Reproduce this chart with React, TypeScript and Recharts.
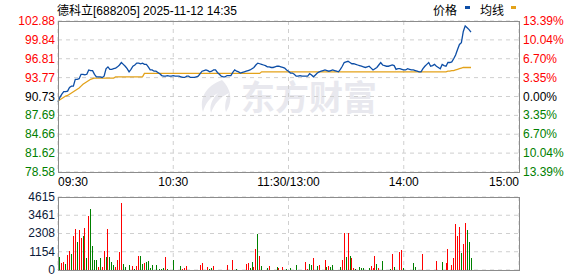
import React from 'react';
import { LineChart, Line, XAxis, YAxis, CartesianGrid, BarChart, Bar } from 'recharts';

const FONT = '"Liberation Sans", "Noto Sans CJK SC", sans-serif';

const TITLE = '德科立[688205] 2025-11-12 14:35';
const LEGEND_PRICE = '价格';
const LEGEND_AVG = '均线';
const WATERMARK = '东方财富';

const PREV_CLOSE = 90.73;
const PRICE_MIN = 78.58;
const PRICE_MAX = 102.88;
const PRICE_TICKS = [78.58, 81.62, 84.66, 87.69, 90.73, 93.77, 96.81, 99.84, 102.88];
const PCT_LABELS = ['13.39%', '10.04%', '6.70%', '3.35%', '0.00%', '3.35%', '6.70%', '10.04%', '13.39%'];
const TIME_TICKS = [0, 60, 120, 180, 240];
const TIME_LABELS = ['09:30', '10:30', '11:30/13:00', '14:00', '15:00'];
const VOL_TICKS = [0, 1154, 2308, 3461, 4615];
const VOL_MAX = 4615;

const PRICE = [
  89.9, 90.6, 91.1, 91.5, 91.5, 91.6, 92.2, 92.4, 92.4, 93.5,
  93.5, 93.6, 94.3, 94.3, 94.2, 94.3, 95.0, 94.9, 94.9, 94.3,
  93.9, 93.9, 93.9, 93.8, 94.0, 95.2, 95.5, 95.1, 95.1, 95.2,
  95.3, 95.5, 95.8, 96.2, 95.9, 95.6, 95.2, 94.7, 95.1, 95.6,
  95.8, 96.1, 96.1, 96.0, 96.1, 95.9, 95.9, 95.5, 95.0, 95.0,
  94.8, 94.8, 94.6, 94.4, 94.1, 94.0, 94.0, 94.1, 94.0, 94.0,
  94.1, 94.0, 94.0, 94.0, 93.9, 93.8, 93.8, 94.0, 94.0, 93.8,
  93.8, 93.8, 93.9, 94.0, 94.4, 94.8, 94.9, 95.0, 94.9, 94.7,
  94.8, 95.0, 95.0, 94.6, 94.3, 94.0, 93.9, 93.9, 94.1, 94.1,
  94.1, 94.6, 95.0, 94.8, 94.7, 94.5, 94.6, 94.7, 94.8, 94.9,
  95.0, 95.2, 95.4, 95.8, 96.1, 96.0, 95.9, 95.8, 95.7, 95.5,
  95.5, 95.4, 95.4, 95.5, 95.6, 95.6, 95.5, 95.4, 95.3, 95.0,
  94.8, 94.5, 94.5, 94.3, 94.0, 94.0, 94.1, 94.0, 94.0, 94.0,
  94.0, 94.4, 94.2, 93.9, 94.2, 94.5, 94.7, 94.8, 94.9, 95.0,
  94.9, 94.8, 94.9, 95.0, 94.9, 94.8, 94.7, 95.1, 95.6, 96.2,
  96.3, 96.4, 96.2, 96.0, 96.0, 95.9, 95.8, 95.7, 95.6, 95.5,
  95.4, 95.5, 95.6, 95.3, 95.0, 95.2, 95.4, 95.8, 96.2, 95.8,
  95.7, 95.6, 95.6, 95.7, 95.8, 95.7, 95.1, 95.2, 95.2, 95.1,
  95.0, 95.0, 95.2, 95.1, 95.0, 95.0, 94.9, 94.8, 94.7, 94.7,
  95.2, 95.6, 95.9, 96.2, 95.6, 95.7, 95.9, 95.6, 95.4, 95.2,
  95.9, 95.7, 95.6, 96.2, 96.2, 96.3, 96.8, 97.4, 98.3, 99.1,
  99.4, 101.2, 102.1, 101.8, 101.5, 101.1,
];

const AVG = [
  90.0, 90.2, 90.4, 90.6, 90.8, 90.9, 91.1, 91.3, 91.5, 91.7,
  91.9, 92.1, 92.4, 92.7, 92.9, 93.1, 93.3, 93.5, 93.6, 93.7,
  93.7, 93.7, 93.7, 93.7, 93.7, 93.7, 93.7, 93.7, 93.7, 93.7,
  93.9, 93.9, 93.9, 93.9, 93.9, 93.9, 93.9, 93.9, 93.9, 93.9,
  93.9, 93.9, 93.9, 93.9, 93.9, 94.45, 94.45, 94.45, 94.45, 94.45,
  94.45, 94.45, 94.45, 94.45, 94.45, 94.45, 94.45, 94.45, 94.45, 94.45,
  94.45, 94.45, 94.45, 94.45, 94.45, 94.45, 94.45, 94.45, 94.45, 94.45,
  94.45, 94.45, 94.45, 94.45, 94.45, 94.45, 94.45, 94.45, 94.45, 94.45,
  94.45, 94.45, 94.45, 94.45, 94.45, 94.45, 94.45, 94.45, 94.45, 94.45,
  94.45, 94.45, 94.45, 94.45, 94.45, 94.45, 94.45, 94.45, 94.45, 94.45,
  94.45, 94.45, 94.45, 94.45, 94.45, 94.45, 94.7, 94.7, 94.7, 94.7,
  94.7, 94.7, 94.7, 94.7, 94.7, 94.7, 94.7, 94.7, 94.7, 94.7,
  94.7, 94.7, 94.7, 94.7, 94.7, 94.7, 94.7, 94.7, 94.7, 94.7,
  94.7, 94.7, 94.7, 94.7, 94.7, 94.7, 94.7, 94.7, 94.7, 94.7,
  94.7, 94.7, 94.7, 94.7, 94.7, 94.7, 94.7, 94.7, 94.7, 94.7,
  94.7, 94.7, 94.7, 94.7, 94.7, 94.7, 94.7, 94.7, 94.7, 94.7,
  94.7, 94.7, 94.7, 94.7, 94.7, 94.7, 94.7, 94.7, 94.7, 94.7,
  94.7, 94.7, 94.7, 94.7, 94.7, 94.7, 94.7, 94.7, 94.7, 94.7,
  94.7, 94.7, 94.7, 94.7, 94.7, 94.7, 94.7, 94.7, 94.7, 94.7,
  94.7, 94.7, 94.7, 94.7, 94.7, 94.7, 94.7, 94.7, 94.7, 94.7,
  94.7, 94.7, 94.7, 94.8, 94.8, 94.9, 94.9, 95.0, 95.1, 95.2,
  95.3, 95.4, 95.4, 95.4, 95.4, 95.4,
];

const VOLUME = [
  0, 792, 470, 535, 407, 920, 1177, 984, 2140, 2589,
  1755, 2525, 2033, 2140, 2654, 728, 3424, 3873, 1498, 663,
  663, 214, 728, 214, 1177, 792, 2589, 792, 535, 342,
  214, 663, 1113, 4259, 407, 214, 30, 342, 20, 278,
  86, 278, 856, 856, 407, 470, 535, 600, 150, 342,
  30, 342, 30, 86, 86, 150, 792, 86, 20, 20,
  663, 20, 20, 20, 278, 86, 150, 278, 20, 30,
  20, 30, 20, 20, 342, 470, 30, 20, 214, 86,
  150, 278, 20, 20, 20, 20, 20, 30, 342, 20,
  20, 663, 30, 86, 20, 20, 20, 20, 407, 470,
  150, 535, 214, 1305, 2268, 856, 278, 20, 20, 150,
  278, 20, 20, 20, 214, 150, 30, 214, 20, 86,
  20, 150, 30, 20, 342, 30, 20, 20, 20, 535,
  86, 407, 342, 728, 30, 278, 342, 30, 30, 663,
  214, 278, 214, 342, 20, 20, 20, 214, 663, 2333,
  792, 2333, 856, 728, 150, 86, 20, 214, 150, 150,
  30, 20, 150, 278, 150, 856, 407, 150, 30, 600,
  20, 20, 20, 86, 984, 214, 20, 20, 1113, 1241,
  150, 20, 20, 30, 20, 470, 214, 30, 20, 20,
  984, 20, 20, 20, 20, 20, 20, 600, 20, 20,
  535, 20, 470, 1305, 20, 342, 728, 2910, 2140, 2718,
  1049, 1626, 2975, 2525, 1755, 728,
];

// r = up (red), g = down (green)
const VOL_DIR = (
  'rgrrgrrgrr grrgrgrggg grgrrgrggg rrrrggrgrr grrggrgggg ' +
  'ggggggrgrr grrrgrrrgr grggrrggrg grgggggrrg rrggggrrrr ' +
  'ggrrgrggrg rrgrgrgrgg rgrrgrgggr rggrrgrggr grggrgrgrr ' +
  'grgrrgrggg rrgrrrgrgg rrrgrgrrrr grrgrggrrr rggrgrrrgg ' +
  'grrrgrrrrr grrggg'
).replace(/ /g, '').split('');

const RED = '#ff0000';
const GREEN = '#008000';
const PRICE_COLOR = '#0d4ea6';
const AVG_COLOR = '#e3a21a';
const GRID = '#cfcfcf';
const BORDER = '#8c8c8c';

const priceRows = PRICE.map((p, i) => ({ m: i, price: p, avg: AVG[i] }));
const volRows = VOLUME.map((v, i) => ({ m: i, v, dir: VOL_DIR[i] }));

const colorFor = (v: number) =>
  Math.abs(v - PREV_CLOSE) < 0.001 ? '#000000' : v > PREV_CLOSE ? RED : GREEN;

const PriceTick = (props: any) => {
  const { y, payload } = props;
  const v = payload.value as number;
  return (
    <text x={55} y={y} dy={4} textAnchor="end" fontSize={12} fontFamily={FONT} fill={colorFor(v)}>
      {v.toFixed(2)}
    </text>
  );
};

const PctTick = (props: any) => {
  const { y, payload } = props;
  const v = payload.value as number;
  const idx = PRICE_TICKS.indexOf(v);
  return (
    <text x={523} y={y} dy={4} textAnchor="start" fontSize={12} fontFamily={FONT} fill={colorFor(v)}>
      {PCT_LABELS[PRICE_TICKS.length - 1 - idx]}
    </text>
  );
};

const TimeTick = (props: any) => {
  const { x, payload } = props;
  const idx = TIME_TICKS.indexOf(payload.value);
  const anchor = idx === 0 ? 'start' : idx === TIME_TICKS.length - 1 ? 'end' : 'middle';
  return (
    <text x={x} y={186} textAnchor={anchor} fontSize={12} fontFamily={FONT} fill="#000">
      {TIME_LABELS[idx]}
    </text>
  );
};

const VolTick = (props: any) => {
  const { y, payload } = props;
  return (
    <text x={55} y={y} dy={4} textAnchor="end" fontSize={12} fontFamily={FONT} fill="#0a1a3a">
      {String(payload.value)}
    </text>
  );
};

const VolBar = (props: any) => {
  const { x, y, width, height, payload } = props;
  if (!height || height <= 0) return null;
  const cx = Math.round(x + width / 2);
  const fill = payload && payload.dir === 'g' ? GREEN : RED;
  return <rect x={cx} y={y} width={1} height={height} fill={fill} shapeRendering="crispEdges" />;
};

export default function App() {
  return (
    <div
      style={{
        position: 'absolute',
        left: 0,
        top: 0,
        width: 578,
        height: 276,
        background: '#fff',
        overflow: 'hidden',
        fontFamily: FONT,
      }}
    >
      <svg width={578} height={276} style={{ position: 'absolute', left: 0, top: 0 }}>
        <g fill="#e8e8ee">
          <path d="M222 80 C206 86 199 98 203 112 C205 104 210 97 218 93 C212 99 209 106 211 113 C214 104 220 97 229 93 C226 99 224 106 226 112 C232 103 233 91 222 80 Z" />
        </g>
        <text x={241} y={110} fontSize={34} fontWeight={700} fill="#e8e8ee" fontFamily='"Noto Sans CJK SC", sans-serif'>
          {WATERMARK}
        </text>
        <text x={57} y={15} fontSize={12} fill="#000" fontFamily={FONT}>
          {TITLE}
        </text>
        <text x={433} y={15} fontSize={12} fill="#000" fontFamily={FONT}>
          {LEGEND_PRICE}
        </text>
        <rect x={465} y={6} width={5} height={3} fill={PRICE_COLOR} />
        <text x={480} y={15} fontSize={12} fill="#000" fontFamily={FONT}>
          {LEGEND_AVG}
        </text>
        <rect x={511} y={6} width={5} height={3} fill={AVG_COLOR} />
      </svg>

      <div style={{ position: 'absolute', left: 0, top: 0 }}>
        <LineChart width={578} height={190} data={priceRows} margin={{ top: 21, right: 0, bottom: 0, left: 0 }}>
          <CartesianGrid yAxisId="l" stroke={GRID} strokeDasharray="4 4" />
          <XAxis
            dataKey="m"
            type="number"
            domain={[0, 240]}
            ticks={TIME_TICKS}
            interval={0}
            height={18}
            axisLine={false}
            tickLine={false}
            tick={(p: any) => <TimeTick {...p} />}
          />
          <YAxis
            yAxisId="l"
            domain={[PRICE_MIN, PRICE_MAX]}
            ticks={PRICE_TICKS}
            interval={0}
            width={58}
            axisLine={false}
            tickLine={false}
            tick={(p: any) => <PriceTick {...p} />}
          />
          <YAxis
            yAxisId="r"
            orientation="right"
            domain={[PRICE_MIN, PRICE_MAX]}
            ticks={PRICE_TICKS}
            interval={0}
            width={59}
            axisLine={false}
            tickLine={false}
            tick={(p: any) => <PctTick {...p} />}
          />
          <Line
            yAxisId="r"
            type="linear"
            dataKey="price"
            stroke="none"
            strokeOpacity={0}
            dot={false}
            activeDot={false}
            legendType="none"
            isAnimationActive={false}
          />
          <Line
            yAxisId="l"
            type="linear"
            dataKey="avg"
            stroke={AVG_COLOR}
            strokeWidth={1.3}
            dot={false}
            isAnimationActive={false}
          />
          <Line
            yAxisId="l"
            type="linear"
            dataKey="price"
            stroke={PRICE_COLOR}
            strokeWidth={1.3}
            dot={false}
            isAnimationActive={false}
          />
        </LineChart>
      </div>

      <div style={{ position: 'absolute', left: 0, top: 190 }}>
        <BarChart width={578} height={86} data={volRows} margin={{ top: 7, right: 59, bottom: 6, left: 0 }}>
          <CartesianGrid stroke={GRID} strokeDasharray="4 4" />
          <XAxis dataKey="m" type="number" domain={[0, 240]} ticks={TIME_TICKS} hide />
          <YAxis
            domain={[0, VOL_MAX]}
            ticks={VOL_TICKS}
            interval={0}
            width={58}
            axisLine={false}
            tickLine={false}
            tick={(p: any) => <VolTick {...p} />}
          />
          <Bar dataKey="v" barSize={1} isAnimationActive={false} shape={(p: any) => <VolBar {...p} />} />
        </BarChart>
      </div>

      <div
        style={{
          position: 'absolute',
          left: 58,
          top: 21,
          width: 462,
          height: 152,
          boxSizing: 'border-box',
          border: `1px solid ${BORDER}`,
          pointerEvents: 'none',
        }}
      />
      <div
        style={{
          position: 'absolute',
          left: 58,
          top: 197,
          width: 462,
          height: 74,
          boxSizing: 'border-box',
          border: `1px solid ${BORDER}`,
          pointerEvents: 'none',
        }}
      />
    </div>
  );
}
